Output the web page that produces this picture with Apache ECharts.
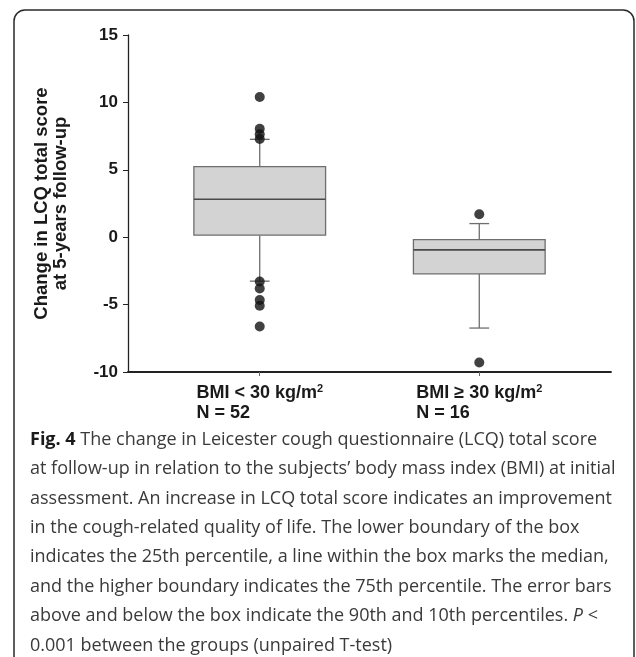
<!DOCTYPE html>
<html>
<head>
<meta charset="utf-8">
<script src="https://cdn.jsdelivr.net/npm/echarts@6/dist/echarts.min.js"></script>
<style>
  html, body { margin: 0; padding: 0; background: #fff; }
  #main { width: 636px; height: 657px; }
</style>
</head>
<body>
<div id="main"></div>
<script>
// groups on the x axis
var groupPos = [1, 2]
var groupNames = ['BMI < 30 kg/m', 'BMI ≥ 30 kg/m']
var groupN = [52, 16]

// percentiles per group (10th, 25th, median, 75th, 90th)
var p10 = [-3.26, -6.74]
var p25 = [0.15, -2.72]
var p50 = [2.81, -0.94]
var p75 = [5.23, -0.18]
var p90 = [7.26, 1.01]

// points outside the 10th-90th range
var outliers1 = [10.4, 8.04, 7.63, 7.28, -3.28, -3.8, -4.66, -5.08, -6.63]
var outliers2 = [1.7, -9.3]

var yTicks = [-10, -5, 0, 5, 10, 15]

var caption = [
  '{b|Fig. 4} The change in Leicester cough questionnaire (LCQ) total score',
  'at follow-up in relation to the subjects\u2019 body mass index (BMI) at initial',
  'assessment. An increase in LCQ total score indicates an improvement',
  'in the cough-related quality of life. The lower boundary of the box',
  'indicates the 25th percentile, a line within the box marks the median,',
  'and the higher boundary indicates the 75th percentile. The error bars',
  'above and below the box indicate the 90th and 10th percentiles. {i|P} <',
  '0.001 between the groups (unpaired T-test)'
]

var boxData = groupPos.map(function (x, i) {
  return [x, p10[i], p25[i], p50[i], p75[i], p90[i]]
})
var outlierData = []
outliers1.forEach(function (v) { outlierData.push([groupPos[0], v]) })
outliers2.forEach(function (v) { outlierData.push([groupPos[1], v]) })

var FONT = 'Liberation Sans, Arial, sans-serif'
var CAPFONT = 'Open Sans, sans-serif'

function renderBox (params, api) {
  var x = api.value(0)
  var lo = api.coord([x, api.value(1)])
  var q1 = api.coord([x, api.value(2)])
  var med = api.coord([x, api.value(3)])
  var q3 = api.coord([x, api.value(4)])
  var hi = api.coord([x, api.value(5)])
  var half = api.size([0.6, 0])[0] / 2
  var cap = api.size([0.09, 0])[0] / 2
  var ln = { stroke: '#6e6e6e', lineWidth: 1.3 }
  return {
    type: 'group',
    children: [
      { type: 'line', shape: { x1: hi[0], y1: hi[1], x2: q3[0], y2: q3[1] }, style: ln },
      { type: 'line', shape: { x1: q1[0], y1: q1[1], x2: lo[0], y2: lo[1] }, style: ln },
      { type: 'line', shape: { x1: hi[0] - cap, y1: hi[1], x2: hi[0] + cap, y2: hi[1] }, style: ln },
      { type: 'line', shape: { x1: lo[0] - cap, y1: lo[1], x2: lo[0] + cap, y2: lo[1] }, style: ln },
      {
        type: 'rect',
        shape: { x: q3[0] - half, y: q3[1], width: half * 2, height: q1[1] - q3[1] },
        style: { fill: '#d3d3d3', stroke: '#6e6e6e', lineWidth: 1.3 }
      },
      { type: 'line', shape: { x1: med[0] - half, y1: med[1], x2: med[0] + half, y2: med[1] }, style: { stroke: '#4a4a4a', lineWidth: 1.6 } }
    ]
  }
}

var chart = echarts.init(document.getElementById('main'))
chart.setOption({
  animation: false,
  backgroundColor: '#fff',
  grid: { left: 128, right: 25, top: 35, bottom: 285 },
  xAxis: {
    type: 'value',
    min: 0.4,
    max: 2.6,
    splitLine: { show: false },
    axisLine: { onZero: false, lineStyle: { color: '#222', width: 1.8 } },
    axisTick: { customValues: groupPos, length: 4, lineStyle: { color: '#666' } },
    axisLabel: {
      customValues: groupPos,
      margin: 11,
      align: 'center',
      formatter: function (v) {
        var i = groupPos.indexOf(v)
        return '{a|' + groupNames[i] + '}{s|2}\n{a|N = ' + groupN[i] + '}'
      },
      rich: {
        a: { fontFamily: FONT, fontWeight: 'bold', fontSize: 18, color: '#1a1a1a', lineHeight: 20, align: 'left' },
        s: { fontFamily: FONT, fontWeight: 'bold', fontSize: 11, color: '#1a1a1a', lineHeight: 20, verticalAlign: 'top', align: 'left' }
      }
    }
  },
  yAxis: {
    type: 'value',
    min: -10,
    max: 15,
    interval: 5,
    splitLine: { show: false },
    axisLine: { show: true, onZero: false, lineStyle: { color: '#222', width: 1.3 } },
    axisTick: { show: true, length: 5, lineStyle: { color: '#222' } },
    axisLabel: {
      margin: 10,
      fontFamily: FONT,
      fontWeight: 'bold',
      fontSize: 17,
      color: '#1a1a1a',
      customValues: yTicks
    },
    name: 'Change in LCQ total score\nat 5-years follow-up',
    nameLocation: 'middle',
    nameGap: 58,
    nameTextStyle: { fontFamily: FONT, fontWeight: 'bold', fontSize: 18.5, lineHeight: 19, color: '#1a1a1a' }
  },
  series: [
    {
      type: 'custom',
      renderItem: renderBox,
      encode: { x: 0, y: [1, 2, 3, 4, 5] },
      data: boxData,
      z: 2
    },
    {
      type: 'scatter',
      data: outlierData,
      symbol: 'circle',
      symbolSize: 10,
      itemStyle: { color: '#111' },
      z: 3
    }
  ],
  graphic: [
    {
      type: 'rect',
      shape: { x: 14, y: 10, width: 620, height: 700, r: 11 },
      style: { fill: 'none', stroke: '#2a2a2a', lineWidth: 1.5 },
      silent: true
    },
    {
      type: 'text',
      x: 30,
      y: 425,
      style: {
        text: caption.join('\n'),
        fontFamily: CAPFONT,
        fontSize: 18,
        lineHeight: 29.4,
        fill: '#3a3a3a',
        rich: {
          b: { fontFamily: CAPFONT, fontSize: 18, fontWeight: 'bold', fill: '#1a1a1a', lineHeight: 29.4 },
          i: { fontFamily: CAPFONT, fontSize: 18, fontStyle: 'italic', fill: '#3a3a3a', lineHeight: 29.4 }
        }
      }
    }
  ]
})
</script>
</body>
</html>
